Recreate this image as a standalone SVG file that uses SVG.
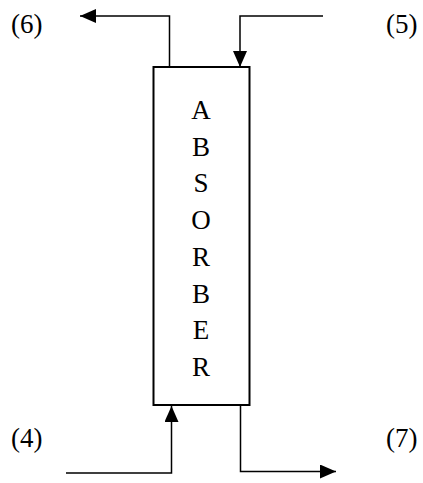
<svg xmlns="http://www.w3.org/2000/svg" width="423" height="483" viewBox="0 0 423 483">
<style>
text{font-family:"Liberation Serif","Times New Roman",serif;font-size:27px;fill:#000}
.l{text-anchor:middle}
.c{fill:none;stroke:#000;stroke-width:1.5}
</style>
<defs>
<marker id="ah" viewBox="0 0 16 14" refX="16" refY="7" markerWidth="16" markerHeight="14" markerUnits="userSpaceOnUse" orient="auto">
<path d="M0,0 L16,7 L0,14 Z" fill="#000"/>
</marker>
</defs>
<rect width="423" height="483" fill="#fff"/>
<g id="absorber">
<rect x="153.5" y="67" width="96" height="338" fill="#fff" stroke="#000" stroke-width="2"/>
<text class="l" x="201" y="119">A</text>
<text class="l" x="201" y="155.7">B</text>
<text class="l" x="201" y="192.4">S</text>
<text class="l" x="201" y="229.1">O</text>
<text class="l" x="201" y="265.8">R</text>
<text class="l" x="201" y="302.5">B</text>
<text class="l" x="201" y="339.2">E</text>
<text class="l" x="201" y="376">R</text>
</g>
<g id="labels">
<text x="11" y="33">(6)</text>
<text x="386" y="33">(5)</text>
<text x="11" y="447">(4)</text>
<text x="386" y="447">(7)</text>
</g>
<g id="connectors">
<polyline class="c" points="169.5,67 169.5,16 80,16" marker-end="url(#ah)"/>
<polyline class="c" points="323,16 240,16 240,67" marker-end="url(#ah)"/>
<polyline class="c" points="66,473 171.5,473 171.5,406" marker-end="url(#ah)"/>
<polyline class="c" points="240.5,405 240.5,471.5 336,471.5" marker-end="url(#ah)"/>
</g>
</svg>
